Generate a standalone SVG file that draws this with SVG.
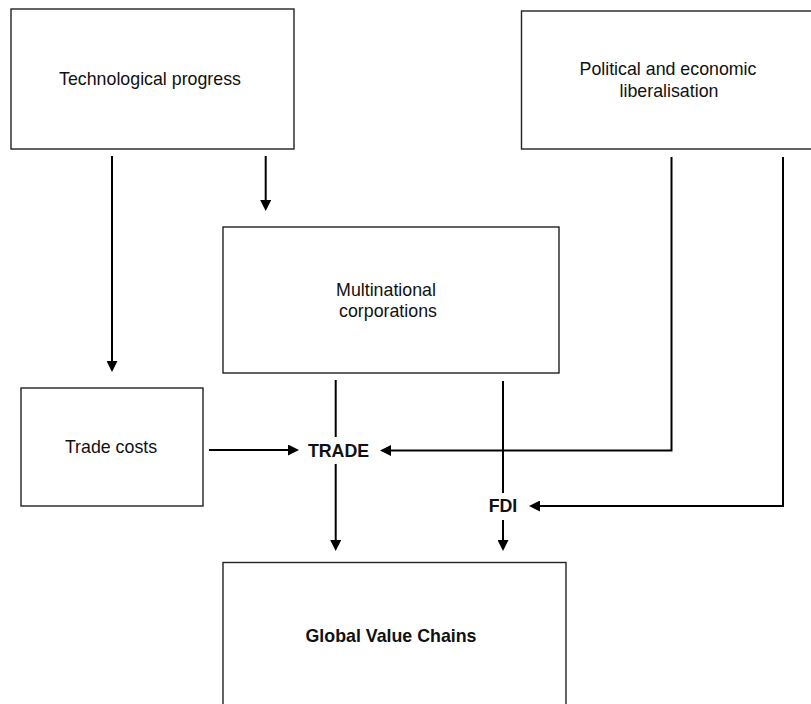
<svg xmlns="http://www.w3.org/2000/svg" width="811" height="704" viewBox="0 0 811 704">
<defs>
<style>
.box{fill:#fff;stroke:#222;stroke-width:1.4}
.t{font-family:"Liberation Sans",Arial,sans-serif;font-size:17.8px;fill:#111;text-anchor:middle}
.b{font-weight:bold}
.c{fill:none;stroke:#000;stroke-width:2}
</style>
<marker id="ah" markerUnits="userSpaceOnUse" markerWidth="12" markerHeight="11" refX="1" refY="5.5" orient="auto">
<path d="M0,0 L11,5.5 L0,11 z" fill="#000"/>
</marker>
</defs>
<rect width="811" height="704" fill="#fff"/>
<g id="tech">
<rect class="box" x="11" y="9" width="283" height="140"/>
<text class="t" x="150" y="85">Technological progress</text>
</g>
<g id="liberalisation">
<rect class="box" x="521.5" y="11" width="300" height="138"/>
<text class="t" x="668" y="75">Political and economic</text>
<text class="t" x="669" y="97">liberalisation</text>
</g>
<g id="mnc">
<rect class="box" x="223" y="227" width="336" height="146"/>
<text class="t" x="386" y="296">Multinational</text>
<text class="t" x="388" y="317">corporations</text>
</g>
<g id="tradecosts">
<rect class="box" x="21" y="388" width="182" height="118"/>
<text class="t" x="111" y="453">Trade costs</text>
</g>
<g id="trade">
<text class="t b" x="338.5" y="457">TRADE</text>
</g>
<g id="fdi">
<text class="t b" x="503" y="512">FDI</text>
</g>
<g id="gvc">
<rect class="box" x="223" y="562.5" width="343" height="160"/>
<text class="t b" x="391" y="642">Global Value Chains</text>
</g>
<g id="connectors">
<line class="c" x1="112" y1="156" x2="112" y2="362" marker-end="url(#ah)"/>
<line class="c" x1="265.7" y1="156" x2="265.7" y2="201" marker-end="url(#ah)"/>
<line class="c" x1="209" y1="450" x2="289" y2="450" marker-end="url(#ah)"/>
<polyline class="c" points="671.5,157 671.5,450.5 390,450.5" marker-end="url(#ah)"/>
<polyline class="c" points="783,157 783,506 539,506" marker-end="url(#ah)"/>
<line class="c" x1="335.7" y1="380" x2="335.7" y2="437"/>
<line class="c" x1="335.7" y1="464" x2="335.7" y2="541" marker-end="url(#ah)"/>
<line class="c" x1="503" y1="381" x2="503" y2="493"/>
<line class="c" x1="503" y1="520" x2="503" y2="541" marker-end="url(#ah)"/>
</g>
</svg>
